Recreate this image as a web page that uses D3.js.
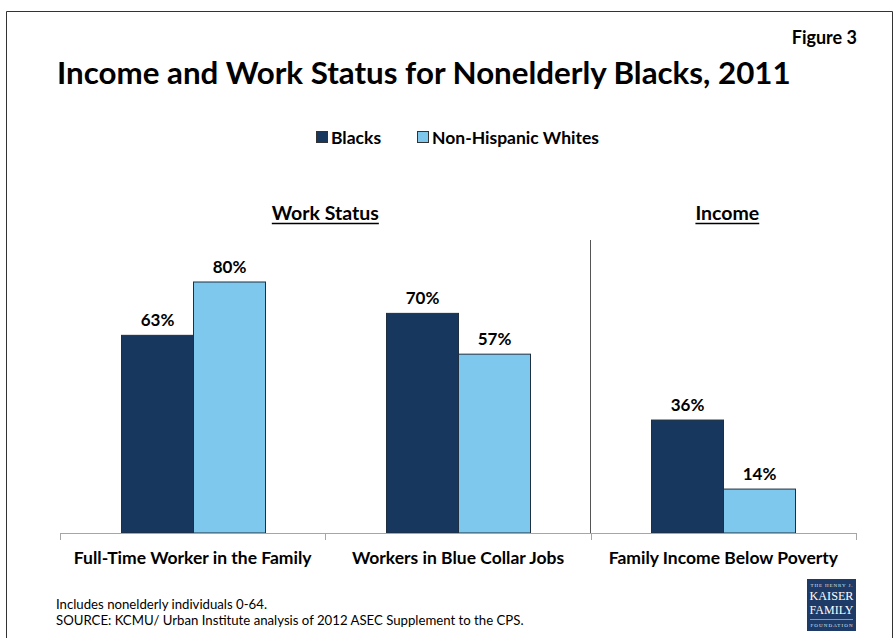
<!DOCTYPE html>
<html>
<head>
<meta charset="utf-8">
<script src="https://cdn.jsdelivr.net/npm/d3@7"></script>
<style>
  html, body { margin: 0; padding: 0; background: #fff; }
  svg text { font-family: Lato, "Open Sans", sans-serif; }
  svg text.logo { font-family: "Liberation Serif", "DejaVu Serif", serif; }
</style>
</head>
<body>
<svg id="chart" width="894" height="638"></svg>
<script>
// Categories and series
const categories = ["Full-Time Worker in the Family", "Workers in Blue Collar Jobs", "Family Income Below Poverty"];
const seriesNames = ["Blacks", "Non-Hispanic Whites"];
const blacks = [63, 70, 36];
const whites = [80, 57, 14];
const colors = ["#17375e", "#7ec8ee"];

const svg = d3.select("#chart");
const W = 894, H = 638;

// Outer frame
svg.append("path")
  .attr("d", `M6.5,${H} V11.5 H892.5 V${H}`)
  .attr("fill", "none").attr("stroke", "#333").attr("stroke-width", 1);

// Header texts
svg.append("text").attr("x", 857).attr("y", 44).attr("text-anchor", "end")
  .attr("font-size", 18).attr("font-weight", 700).attr("fill", "#000").text("Figure 3");
svg.append("text").attr("x", 57).attr("y", 84)
  .attr("font-size", 31.3).attr("font-weight", 700).attr("fill", "#000")
  .text("Income and Work Status for Nonelderly Blacks, 2011");

// Scales
const x0 = d3.scaleBand().domain(categories).range([60, 856]).paddingInner(0).paddingOuter(0);
const groupW = 144;
const x1 = d3.scaleBand().domain(seriesNames).range([0, groupW]);
const y = d3.scaleLinear().domain([0, 100]).range([533, 219.25]);

// Legend
const legend = svg.append("g");
const legendItems = [{ name: seriesNames[0], x: 316 }, { name: seriesNames[1], x: 417 }];
legendItems.forEach((d, i) => {
  legend.append("rect").attr("x", d.x + 0.5).attr("y", 131.5).attr("width", 11).attr("height", 11)
    .attr("fill", colors[i]).attr("stroke", "#333").attr("stroke-width", 1);
  legend.append("text").attr("x", d.x + 15).attr("y", 143.5)
    .attr("font-size", 17.5).attr("font-weight", 700).attr("fill", "#000").text(d.name);
});

// Section headings
const headings = [
  { text: "Work Status", cx: (x0(categories[0]) + x0(categories[1]) + x0.bandwidth()) / 2 },
  { text: "Income", cx: x0(categories[2]) + x0.bandwidth() / 2 + 4 }
];
headings.forEach(h => {
  const t = svg.append("text").attr("x", h.cx).attr("y", 220).attr("text-anchor", "middle")
    .attr("font-size", 19.5).attr("font-weight", 700).attr("fill", "#000").text(h.text);
  const bb = t.node().getBBox();
  svg.append("line").attr("x1", bb.x).attr("x2", bb.x + bb.width)
    .attr("y1", 223.5).attr("y2", 223.5).attr("stroke", "#000").attr("stroke-width", 1.5);
});

// Divider between sections
svg.append("line").attr("x1", 590.5).attr("x2", 590.5).attr("y1", 240).attr("y2", 533)
  .attr("stroke", "#555").attr("stroke-width", 1);

// Bars
const data = categories.map((c, i) => ({ cat: c, values: [blacks[i], whites[i]] }));
const groups = svg.append("g").selectAll("g").data(data).join("g")
  .attr("transform", d => `translate(${Math.round(x0(d.cat) + (x0.bandwidth() - groupW) / 2) + 0.5},0)`);

groups.selectAll("rect").data(d => d.values.map((v, i) => ({ v, s: seriesNames[i], i })))
  .join("rect")
  .attr("x", d => x1(d.s))
  .attr("y", d => y(d.v))
  .attr("width", x1.bandwidth())
  .attr("height", d => y(0) - y(d.v))
  .attr("fill", d => colors[d.i])
  .attr("stroke", "#1f2f3f").attr("stroke-width", 1);

groups.selectAll("text").data(d => d.values.map((v, i) => ({ v, s: seriesNames[i] })))
  .join("text")
  .attr("x", d => x1(d.s) + x1.bandwidth() / 2)
  .attr("y", d => y(d.v) - 9)
  .attr("text-anchor", "middle")
  .attr("font-size", 17).attr("font-weight", 700).attr("fill", "#000")
  .text(d => d.v + "%");

// Category axis
const axis = d3.axisBottom(x0).tickSize(0).tickPadding(0);
const axG = svg.append("g").attr("transform", "translate(0,533)").call(axis);
axG.select(".domain").attr("stroke", "#a6a6a6").attr("d", "M60.5,0.5H856.5");
axG.selectAll(".tick text").attr("y", 31).attr("dy", 0).attr("font-size", 17.5).attr("font-weight", 700)
  .attr("fill", "#000").attr("font-family", "Lato, sans-serif");
// band separators
const sepX = categories.map(c => x0(c)).concat([x0.range()[1]]);
axG.selectAll(".sep").data(sepX).join("line").attr("class", "sep")
  .attr("x1", d => Math.round(d) + 0.5).attr("x2", d => Math.round(d) + 0.5).attr("y1", 0).attr("y2", 7)
  .attr("stroke", "#a6a6a6");

// Footnotes
svg.append("text").attr("x", 56).attr("y", 609).attr("font-size", 13.2).attr("fill", "#000")
  .text("Includes nonelderly individuals 0-64.");
svg.append("text").attr("x", 56).attr("y", 625).attr("font-size", 13.2).attr("fill", "#000")
  .text("SOURCE: KCMU/ Urban Institute analysis of 2012 ASEC Supplement to the CPS.");

// Logo
const logo = svg.append("g").attr("transform", "translate(807,579)");
logo.append("rect").attr("width", 49).attr("height", 52).attr("fill", "#1e3a66");
logo.append("text").attr("class", "logo").attr("x", 24.5).attr("y", 8).attr("text-anchor", "middle").attr("font-size", 5)
  .attr("fill", "#dfe6f0").attr("textLength", 42).text("THE HENRY J.");
logo.append("text").attr("class", "logo").attr("x", 24.5).attr("y", 21).attr("text-anchor", "middle").attr("font-size", 12)
  .attr("fill", "#fff").attr("textLength", 44).attr("lengthAdjust", "spacingAndGlyphs").text("KAISER");
logo.append("text").attr("class", "logo").attr("x", 24.5).attr("y", 35).attr("text-anchor", "middle").attr("font-size", 12)
  .attr("fill", "#fff").attr("textLength", 44).attr("lengthAdjust", "spacingAndGlyphs").text("FAMILY");
logo.append("line").attr("x1", 3).attr("x2", 46).attr("y1", 40.5).attr("y2", 40.5).attr("stroke", "#fff").attr("stroke-width", 0.5);
logo.append("text").attr("class", "logo").attr("x", 24.5).attr("y", 48).attr("text-anchor", "middle").attr("font-size", 5)
  .attr("fill", "#dfe6f0").attr("textLength", 42).text("FOUNDATION");
</script>
</body>
</html>
